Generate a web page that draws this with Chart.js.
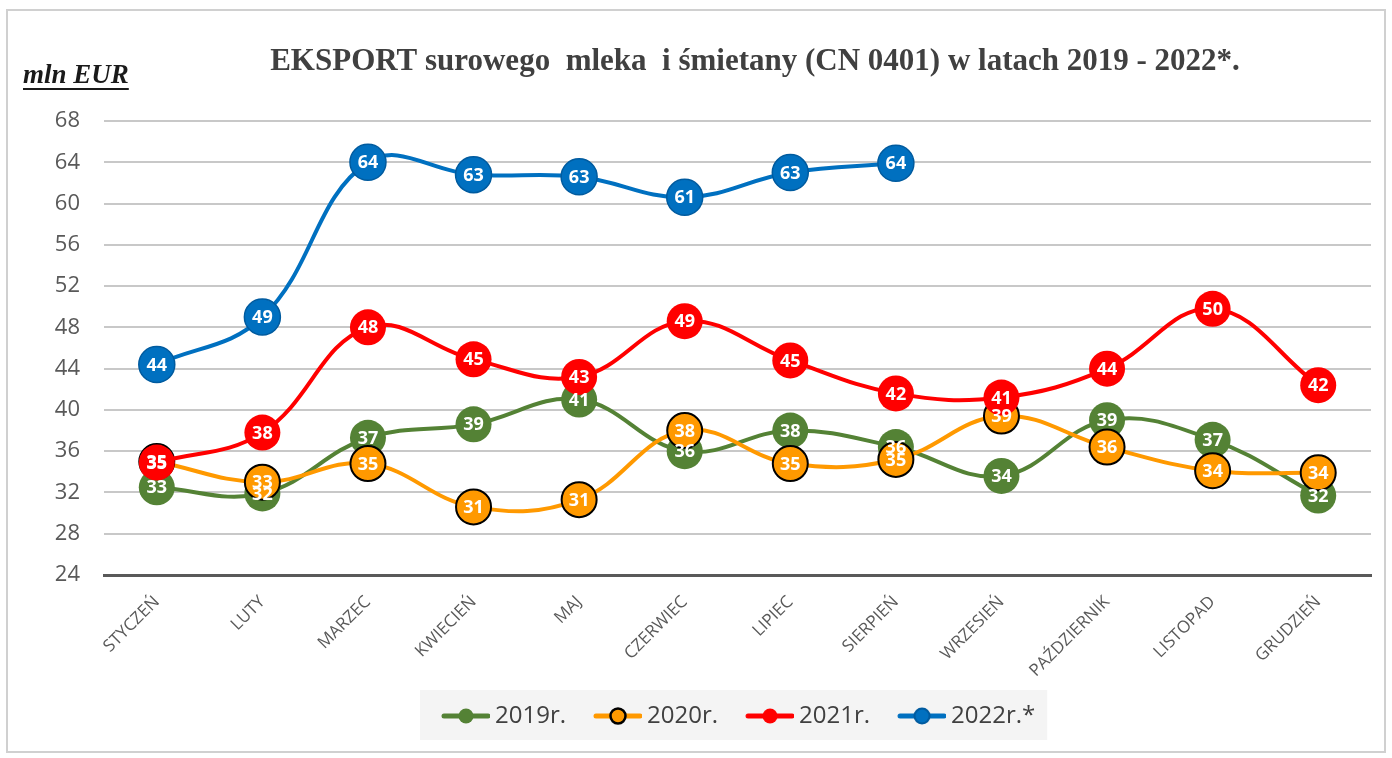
<!DOCTYPE html>
<html>
<head>
<meta charset="utf-8">
<script src="https://cdn.jsdelivr.net/npm/chart.js@4/dist/chart.umd.min.js"></script>
<style>
html,body{margin:0;padding:0;background:#fff}
#wrap{position:relative;width:1392px;height:758px}
</style>
</head>
<body>
<div id="wrap"><canvas id="c"></canvas></div>
<script>
// ---- data ----
const months = ['STYCZEŃ','LUTY','MARZEC','KWIECIEŃ','MAJ','CZERWIEC','LIPIEC','SIERPIEŃ','WRZESIEŃ','PAŹDZIERNIK','LISTOPAD','GRUDZIEŃ'];
const seriesNames = ['2019r.','2020r.','2021r.','2022r.*'];
const v2019 = [32.5,31.9,37.3,38.6,41.0,36.0,38.0,36.4,33.6,39.0,37.1,31.7];
const v2020 = [35.0,33.0,34.8,30.6,31.3,38.0,34.8,35.2,39.4,36.4,34.1,33.9];
const v2021 = [34.9,37.8,48.0,44.9,43.2,48.6,44.8,41.6,41.2,44.0,49.8,42.4];
const v2022 = [44.4,49.0,64.0,62.8,62.6,60.6,63.0,63.9];
const yTickValues = [24,28,32,36,40,44,48,52,56,60,64,68];
const titleText = 'EKSPORT surowego  mleka  i śmietany (CN 0401) w latach 2019 - 2022*.';
const unitText = 'mln EUR';

// ---- styles ----
const colors = ['#548235','#FF9900','#FF0000','#0070C0'];
const pointBorders = ['#548235','#000000','#FF0000','#005B9F'];
const pointBorderWidths = [0,2,0,1.5];

function legendIcon(i){
  const c = document.createElement('canvas');
  c.width = 62; c.height = 22;
  const g = c.getContext('2d');
  g.strokeStyle = colors[i]; g.lineWidth = 5; g.lineCap = 'round';
  g.beginPath(); g.moveTo(16,11); g.lineTo(60,11); g.stroke();
  g.beginPath(); g.arc(38,11,7.5,0,Math.PI*2);
  g.fillStyle = colors[i]; g.fill();
  if (pointBorderWidths[i]) { g.lineWidth = pointBorderWidths[i]+0.5; g.strokeStyle = pointBorders[i]; g.stroke(); }
  return c;
}
const icons = [0,1,2,3].map(legendIcon);

const LEG_PAD = 21;
const decorPlugin = {
  id: 'decor',
  afterLayout(chart){
    const lg = chart.legend;
    if (!lg || !lg.lineWidths) return;
    const x0 = (lg.left + LEG_PAD + lg.right - lg.lineWidths[0]) / 2;
    const dx = 435 - x0;
    lg.left += dx; lg.right += dx;
  },
  beforeDraw(chart){
    const ctx = chart.ctx;
    ctx.save();
    ctx.fillStyle = '#ffffff';
    ctx.fillRect(0,0,chart.width,chart.height);
    ctx.strokeStyle = '#d0d0d0'; ctx.lineWidth = 2;
    ctx.strokeRect(7,10,1378,742);
    // legend background
    const lg = chart.legend;
    if (lg && lg.lineWidths) {
      const x0 = (lg.left + LEG_PAD + lg.right - lg.lineWidths[0]) / 2;
      const cy = lg.top + LEG_PAD + 12;
      ctx.fillStyle = '#f4f4f4';
      ctx.fillRect(x0 - 15, cy - 26, lg.lineWidths[0] - LEG_PAD + 27, 50);
    }
    // title
    ctx.fillStyle = '#404040';
    ctx.font = 'bold 31px "Liberation Serif"';
    ctx.textAlign = 'center'; ctx.textBaseline = 'alphabetic';
    ctx.fillText(titleText, 755, 70);
    // unit
    ctx.fillStyle = '#1a1a1a';
    ctx.font = 'italic bold 27px "Liberation Serif"';
    ctx.textAlign = 'left';
    ctx.fillText(unitText, 23, 83);
    const w = ctx.measureText(unitText).width;
    ctx.fillRect(23, 88, w, 2);
    ctx.restore();
  }
};

const labelPlugin = {
  id: 'vlabels',
  afterDatasetsDraw(chart){
    const ctx = chart.ctx;
    ctx.save();
    ctx.font = 'bold 18px "Open Sans"';
    ctx.fillStyle = '#ffffff';
    ctx.textAlign = 'center'; ctx.textBaseline = 'middle';
    chart.data.datasets.forEach((ds,i)=>{
      const meta = chart.getDatasetMeta(i);
      meta.data.forEach((pt,j)=>{
        const v = ds.data[j];
        if (v == null) return;
        ctx.fillText(String(Math.round(v)), pt.x, pt.y + 1);
      });
    });
    ctx.restore();
  }
};

const seriesData = [v2019, v2020, v2021, v2022];
const datasets = seriesData.map((d,i)=>({
  label: seriesNames[i],
  data: d,
  borderColor: colors[i],
  backgroundColor: colors[i],
  pointBackgroundColor: colors[i],
  pointBorderColor: pointBorders[i],
  pointBorderWidth: pointBorderWidths[i],
  pointRadius: i === 1 ? 17.5 : 18,
  pointHoverRadius: 18,
  borderWidth: 4,
  tension: 0.4,
  order: 4 - i
}));

new Chart(document.getElementById('c'), {
  type: 'line',
  data: { labels: months, datasets },
  plugins: [decorPlugin, labelPlugin],
  options: {
    responsive: true,
    maintainAspectRatio: false,
    animation: false,
    events: [],
    layout: { padding: { top: 121, left: 0, right: 21, bottom: 20 } },
    plugins: {
      title: { display: false },
      tooltip: { enabled: false },
      legend: {
        display: true,
        position: 'bottom',
        labels: {
          usePointStyle: true,
          pointStyleWidth: 48,
          padding: LEG_PAD,
          color: '#404040',
          font: { family: 'Open Sans', size: 24 },
          generateLabels(chart){
            return chart.data.datasets.map((ds,i)=>({
              text: ds.label, pointStyle: icons[i], fillStyle: colors[i],
              strokeStyle: colors[i], lineWidth: 0, hidden: false, datasetIndex: i, fontColor: '#404040'
            }));
          }
        }
      }
    },
    scales: {
      x: {
        type: 'category',
        offset: true,
        grid: { display: false, drawTicks: false },
        border: { display: true, color: '#595959', width: 3 },
        ticks: { color: '#595959', font: { family: 'Open Sans', size: 17 }, minRotation: 45, maxRotation: 45, padding: 17, autoSkip: false },
        afterFit(s){ s.height = 108; }
      },
      y: {
        min: 24, max: 68,
        afterBuildTicks(s){ s.ticks = yTickValues.map(v=>({value:v})); },
        ticks: { color: '#595959', font: { family: 'Open Sans', size: 22 }, padding: 24 },
        grid: { color: '#c8c8c8', lineWidth: 2, drawTicks: false },
        border: { display: false },
        afterFit(s){ s.width = 104; }
      }
    }
  }
});
</script>
</body>
</html>
